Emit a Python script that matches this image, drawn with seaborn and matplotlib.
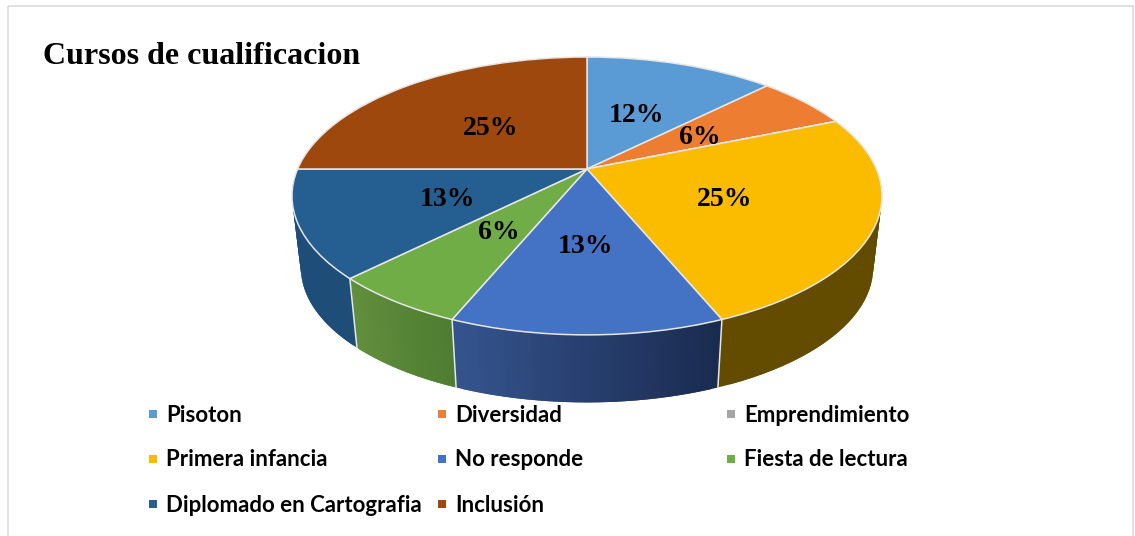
import numpy as np
import seaborn as sns
from matplotlib import pyplot as plt
from matplotlib.patches import Rectangle
from matplotlib.transforms import Affine2D, Transform

# data
cursos = ["Pisoton", "Diversidad", "Emprendimiento", "Primera infancia", "No responde",
          "Fiesta de lectura", "Diplomado en Cartografia", "Inclusión"]
respuestas = [2, 1, 0, 4, 2, 1, 2, 4]
etiquetas = ["12%", "6%", "", "25%", "13%", "6%", "13%", "25%"]
colores = ["#5B9BD5", "#ED7D31", "#A5A5A5", "#FBBC00", "#4472C4", "#70AD47", "#255E91", "#9E480E"]

# side wall shading, left colour then right colour
pared_izq = ["#3F6F99", "#9C5320", "#777777", "#634C00", "#35548F", "#618F3D", "#1D4D78", "#6B3009"]
pared_der = ["#3F6F99", "#9C5320", "#777777", "#634C00", "#1A2B4F", "#4E7C31", "#1E4D78", "#6B3009"]

# perspective of the pie, in pixels
cx, cy = 587, 169
a, b, p = 289.4, 133.7, 0.194
dy_base, esc_base = 72.5, 0.97


class Perspectiva(Transform):
    input_dims = 2
    output_dims = 2

    def transform_non_affine(self, values):
        values = np.asarray(values, dtype=float)
        w = 1 + p * values[:, 1]
        return np.column_stack([cx + a * values[:, 0] / w, cy - b * values[:, 1] / w])


sns.set_theme(style="white")
plt.rcParams["font.family"] = ["Liberation Serif", "DejaVu Sans"]

fig, ax = plt.subplots(figsize=(11.35, 5.36), dpi=100)
fig.subplots_adjust(0, 0, 1, 1)
palette = sns.color_palette(colores)

# top of the pie
wedges, _, autotexts = ax.pie(respuestas, colors=palette, startangle=90, counterclock=False,
                              autopct="%.0f%%", pctdistance=0.5,
                              wedgeprops={"edgecolor": "#E6E6E6", "linewidth": 1.1, "zorder": 5})
persp = Perspectiva()
for w in wedges:
    w.set_transform(persp + ax.transData)
for t, txt in zip(autotexts, etiquetas):
    # labels sit a little lower than the centre of the text box
    t.set_transform(persp + ax.transData + Affine2D().translate(-1, -3.5))
    t.set_text(txt)
    t.set_fontsize(20)
    t.set_fontweight("bold")
    t.set_color("black")
    t.set_zorder(6)

ax.set_aspect("auto")
ax.set_xlim(0, 1135)
ax.set_ylim(536, 0)


def borde(angulos):
    # angles clockwise from the top, returns top and bottom rim in pixels
    rad = np.radians(angulos)
    top = persp.transform_non_affine(np.column_stack([np.sin(rad), np.cos(rad)]))
    base = np.column_stack([cx + esc_base * (top[:, 0] - cx),
                            cy + dy_base + esc_base * (top[:, 1] - cy)])
    return top, base


# side walls, cut in thin overlapping slices for the gradient
limites = np.cumsum([0] + respuestas) / sum(respuestas) * 360
for i in range(len(cursos)):
    ini, fin = limites[i], limites[i + 1]
    if fin <= ini:
        continue
    izq = np.array(sns.color_palette([pared_izq[i]])[0])
    der = np.array(sns.color_palette([pared_der[i]])[0])
    angs = np.linspace(ini, fin, 41)
    top, base = borde(angs)
    x_min, x_max = top[:, 0].min(), top[:, 0].max()
    for j in range(39):
        f = (top[j:j + 2, 0].mean() - x_min) / (x_max - x_min)
        xs = np.r_[top[j:j + 3, 0], base[j:j + 3, 0][::-1]]
        ys = np.r_[top[j:j + 3, 1], base[j:j + 3, 1][::-1]]
        c = izq + (der - izq) * f
        ax.fill(xs, ys, color=c, linewidth=0, zorder=2 + (0.5 if 90 < ini < 270 else 0))
    # seam between walls
    if 90 < fin < 270:
        t_s, b_s = borde(np.array([fin]))
        ax.plot([t_s[0, 0], b_s[0, 0]], [t_s[0, 1], b_s[0, 1]], color="#E6E6E6", lw=1.1, zorder=4)

# title
ax.text(43, 57, "Cursos de cualificacion", fontsize=23, fontweight="bold", color="black",
        va="center", ha="left", zorder=7)

# legend, three columns filled row by row
col_x = [153, 442, 731]
fila_y = [414, 459, 504]
for i, (nombre, color) in enumerate(zip(cursos, palette)):
    x = col_x[i % 3]
    y = fila_y[i // 3]
    ax.scatter([x], [y], marker="s", s=38, color=color, linewidths=0, zorder=7)
    ax.text(x + 13, y + 1, nombre, fontsize=16, fontweight="bold", family=["Lato", "DejaVu Sans"],
            color="black", va="center", ha="left", zorder=7)

# frame of the original picture
ax.add_patch(Rectangle((8, 6), 1125, 540, fill=False, edgecolor="#DADADA", linewidth=1.2, zorder=1))

plt.savefig("out.png", dpi=100)
